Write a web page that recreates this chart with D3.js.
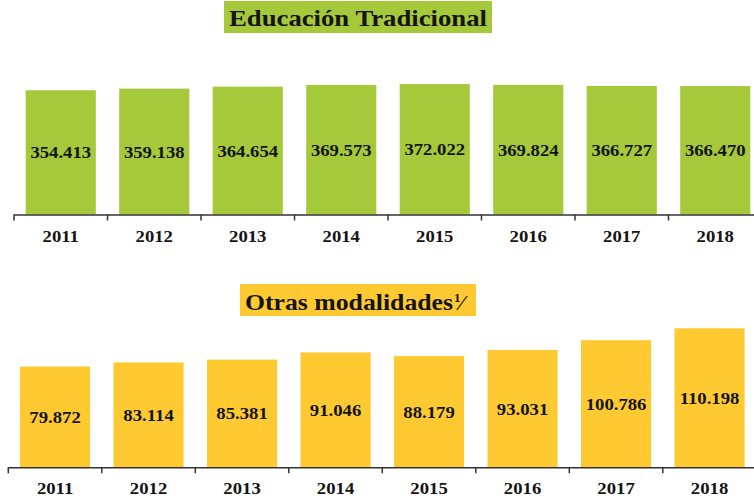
<!DOCTYPE html>
<html lang="es">
<head>
<meta charset="utf-8">
<title>Educación Tradicional / Otras modalidades</title>
<script src="https://d3js.org/d3.v7.min.js"></script>
<style>
  body { margin: 0; background: #fff; }
  text { font-family: "Liberation Serif", "Times New Roman", serif; font-weight: bold; fill: #141414; }
</style>
</head>
<body>
<script>
// data
var years = ["2011", "2012", "2013", "2014", "2015", "2016", "2017", "2018"];
var tradicional = [354413, 359138, 364654, 369573, 372022, 369824, 366727, 366470];
var otras = [79872, 83114, 85381, 91046, 88179, 93031, 100786, 110198];

var w = 754, h = 501;
var svg = d3.select("body").append("svg")
    .attr("width", w)
    .attr("height", h);

var fmt = d => d3.format(",")(d).replace(/,/g, ".");

function panel(opts) {
  var x = d3.scaleBand()
      .domain(years)
      .range([opts.x0, opts.x0 + 8 * 93.5])
      .paddingInner(0.25)
      .paddingOuter(0.125);
  var y = d3.scaleLinear()
      .domain([0, d3.max(opts.values)])
      .range([opts.base, opts.base - opts.maxH]);

  var g = svg.append("g");

  // title box
  g.append("rect")
      .attr("x", opts.titleBox[0]).attr("y", opts.titleBox[1])
      .attr("width", opts.titleBox[2]).attr("height", opts.titleBox[3])
      .attr("fill", opts.color);
  g.append("text")
      .attr("x", opts.titleX)
      .attr("y", opts.titleY)
      .attr("font-size", 24)
      .attr("textLength", opts.titleLen)
      .attr("lengthAdjust", "spacingAndGlyphs")
      .text(opts.title);
  if (opts.sup) {
    var sx = opts.titleX + opts.titleLen + 1;
    g.append("text")
        .attr("x", sx).attr("y", opts.titleY - 8)
        .attr("font-size", 13)
        .text("1");
    g.append("text")
        .attr("x", sx + 6).attr("y", opts.titleY)
        .attr("font-size", 22)
        .text("⁄");
  }

  // bars
  g.selectAll(".bar")
    .data(opts.values)
    .enter().append("rect")
      .attr("class", "bar")
      .attr("x", (d, i) => x(years[i]))
      .attr("y", d => y(d))
      .attr("width", x.bandwidth())
      .attr("height", d => opts.base - y(d))
      .attr("fill", opts.color);

  // value labels
  g.selectAll(".val")
    .data(opts.values)
    .enter().append("text")
      .attr("class", "val")
      .attr("transform", (d, i) => "translate(" + (x(years[i]) + x.bandwidth() / 2) + "," + ((y(d) + opts.base) / 2 + 6) + ") scale(1.1,1)")
      .attr("text-anchor", "middle")
      .attr("font-size", 17)
      .text(d => fmt(d));

  // axis line with ticks at band boundaries
  var step = x.step();
  var edges = years.map(d => x(d) - step * 0.125);
  edges.push(opts.x0 + 8 * step);
  g.append("line")
      .attr("x1", opts.x0).attr("x2", w)
      .attr("y1", opts.base + 0.5).attr("y2", opts.base + 0.5)
      .attr("stroke", "#333").attr("stroke-width", 1.5);
  g.selectAll(".tick")
    .data(edges)
    .enter().append("line")
      .attr("x1", d => d).attr("x2", d => d)
      .attr("y1", opts.base).attr("y2", opts.base + 6)
      .attr("stroke", "#333").attr("stroke-width", 1.5);

  g.selectAll(".yr")
    .data(years)
    .enter().append("text")
      .attr("class", "yr")
      .attr("transform", d => "translate(" + (x(d) + x.bandwidth() / 2) + "," + (opts.base + 27) + ") scale(1.1,1)")
      .attr("text-anchor", "middle")
      .attr("font-size", 17)
      .text(d => d);
}

panel({
  values: tradicional, color: "#a5c93a",
  x0: 14, base: 214.5, maxH: 130.4,
  title: "Educación Tradicional", titleBox: [224, 1, 268, 32], titleX: 229, titleY: 26, titleLen: 258
});

panel({
  values: otras, color: "#fec931",
  x0: 8.3, base: 467.3, maxH: 139,
  title: "Otras modalidades", sup: true, titleBox: [240, 284, 236, 32], titleX: 245, titleY: 310, titleLen: 208
});
</script>
</body>
</html>
